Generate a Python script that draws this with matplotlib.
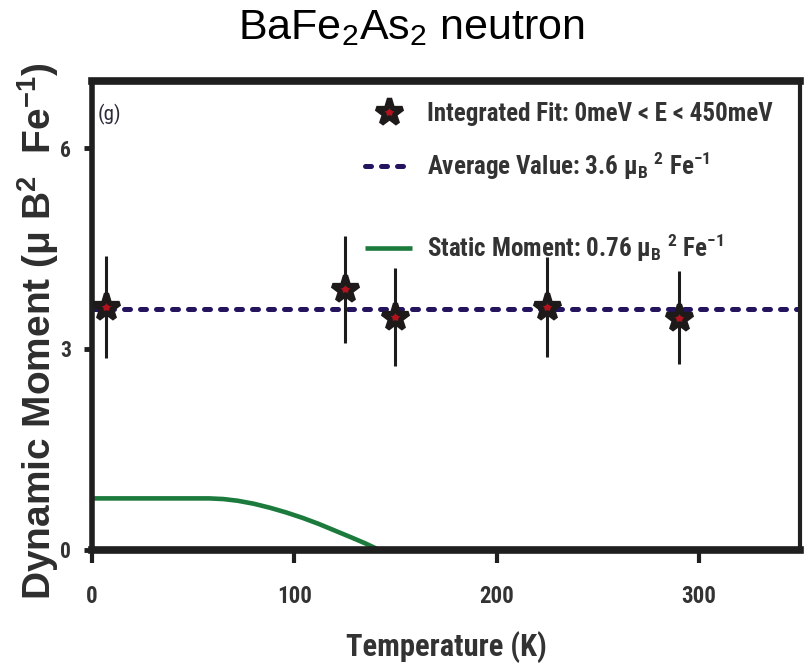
import matplotlib.pyplot as plt
from matplotlib import font_manager

# data
temperature = [7, 125, 150, 225, 290]
moment = [3.63, 3.89, 3.48, 3.63, 3.47]
moment_err = [0.76, 0.80, 0.73, 0.75, 0.70]
average_moment = 3.6
static_t = [0, 58, 65, 72, 80, 88, 96, 104, 112, 120, 128, 135, 142]
static_m = [0.77, 0.77, 0.76, 0.735, 0.69, 0.63, 0.56, 0.48, 0.39, 0.29,
            0.19, 0.10, 0.0]
xticks = [0, 100, 200, 300]
yticks = [0, 3, 6]
labels = ['Integrated Fit: 0meV < E < 450meV',
          r'Average Value: 3.6 $\mu_B$ $^2$ Fe$^{-1}$',
          r'Static Moment: 0.76 $\mu_B$ $^2$ Fe$^{-1}$']

# the original uses a condensed bold face; take one if it is installed
installed = {f.name for f in font_manager.fontManager.ttflist}
cond = [n for n in ['Roboto Condensed', 'Liberation Sans Narrow',
                    'Arial Narrow'] if n in installed]
if cond:
    family = [cond[0], 'DejaVu Sans']
    k = 1.0
else:
    family = ['Liberation Sans', 'DejaVu Sans']
    k = 0.78

plt.rcParams['font.family'] = family
plt.rcParams['mathtext.default'] = 'regular'

fig = plt.figure(figsize=(8.08, 6.69), dpi=100)
ax = fig.add_axes([0.1139, 0.1779, 0.8762, 0.7010])

avg_line = ax.axhline(average_moment, color='#24135e', lw=3.6,
                      dashes=(1.2, 2.0), dash_capstyle='round', zorder=2)
static_line, = ax.plot(static_t, static_m, color='#1b7a3c', lw=3.3,
                       solid_capstyle='butt', zorder=2)
ax.errorbar(temperature, moment, yerr=moment_err, fmt='none',
            ecolor='#1c1c1c', elinewidth=2.2, capsize=0, zorder=3)
stars, = ax.plot(temperature, moment, ls='none', marker='*', ms=20,
                 mfc='#b3131f', mec='#1e1a1a', mew=3.8, zorder=4,
                 clip_on=False)

ax.set_xlim(0, 350)
ax.set_ylim(0, 7)
ax.set_xticks(xticks)
ax.set_yticks(yticks)
ax.tick_params(axis='x', length=9, width=3, pad=16, labelsize=16.5 * k,
               colors='#1f1f1f', labelcolor='#333333')
ax.tick_params(axis='y', length=6, width=3.5, pad=9, labelsize=15.5 * k,
               colors='#1f1f1f', labelcolor='#333333')
for lab in ax.get_xticklabels() + ax.get_yticklabels():
    lab.set_fontweight('bold')

for side, w in [('top', 5.5), ('bottom', 5.5), ('left', 4), ('right', 3)]:
    ax.spines[side].set_linewidth(w)
    ax.spines[side].set_color('#1f1f1f')

ax.set_xlabel('Temperature (K)', fontsize=22 * k, fontweight='bold',
              color='#333333', labelpad=17)
fig.text(0.047, 1 - 600 / 669,
         r'Dynamic Moment ($\mu$ B$^{2}$  Fe$^{-1}$)',
         rotation=90, ha='center', va='bottom', fontsize=28,
         fontweight='bold', color='#2e2e2e',
         family=['Liberation Sans', 'DejaVu Sans'])

ax.text(0.0085, 0.952, '(g)', transform=ax.transAxes, ha='left', va='top',
        fontsize=15 * k, color='#2b2b3a')

fs = 18 * k
px = fs * 100 / 72
leg1 = ax.legend([stars], labels[:1], loc='center left',
                 bbox_to_anchor=(0.3856, 0.9296), frameon=False,
                 prop={'size': fs, 'weight': 'bold'}, labelcolor='#333333',
                 handlelength=47 / px, handletextpad=15 / px,
                 borderpad=0, borderaxespad=0)
ax.add_artist(leg1)
ax.legend([avg_line, static_line], labels[1:], loc='center left',
          bbox_to_anchor=(0.3856, 0.7324), frameon=False,
          prop={'size': fs, 'weight': 'bold'}, labelcolor='#333333',
          handlelength=47 / px, handletextpad=15 / px,
          labelspacing=50 / px, borderpad=0, borderaxespad=0)

fig.text(0.509, 1 - 39 / 669, 'BaFe$_2$As$_2$ neutron', ha='center',
         va='baseline', fontsize=31, color='black',
         family=['Liberation Sans', 'DejaVu Sans'])

fig.savefig('out.png', dpi=100, facecolor='white')
